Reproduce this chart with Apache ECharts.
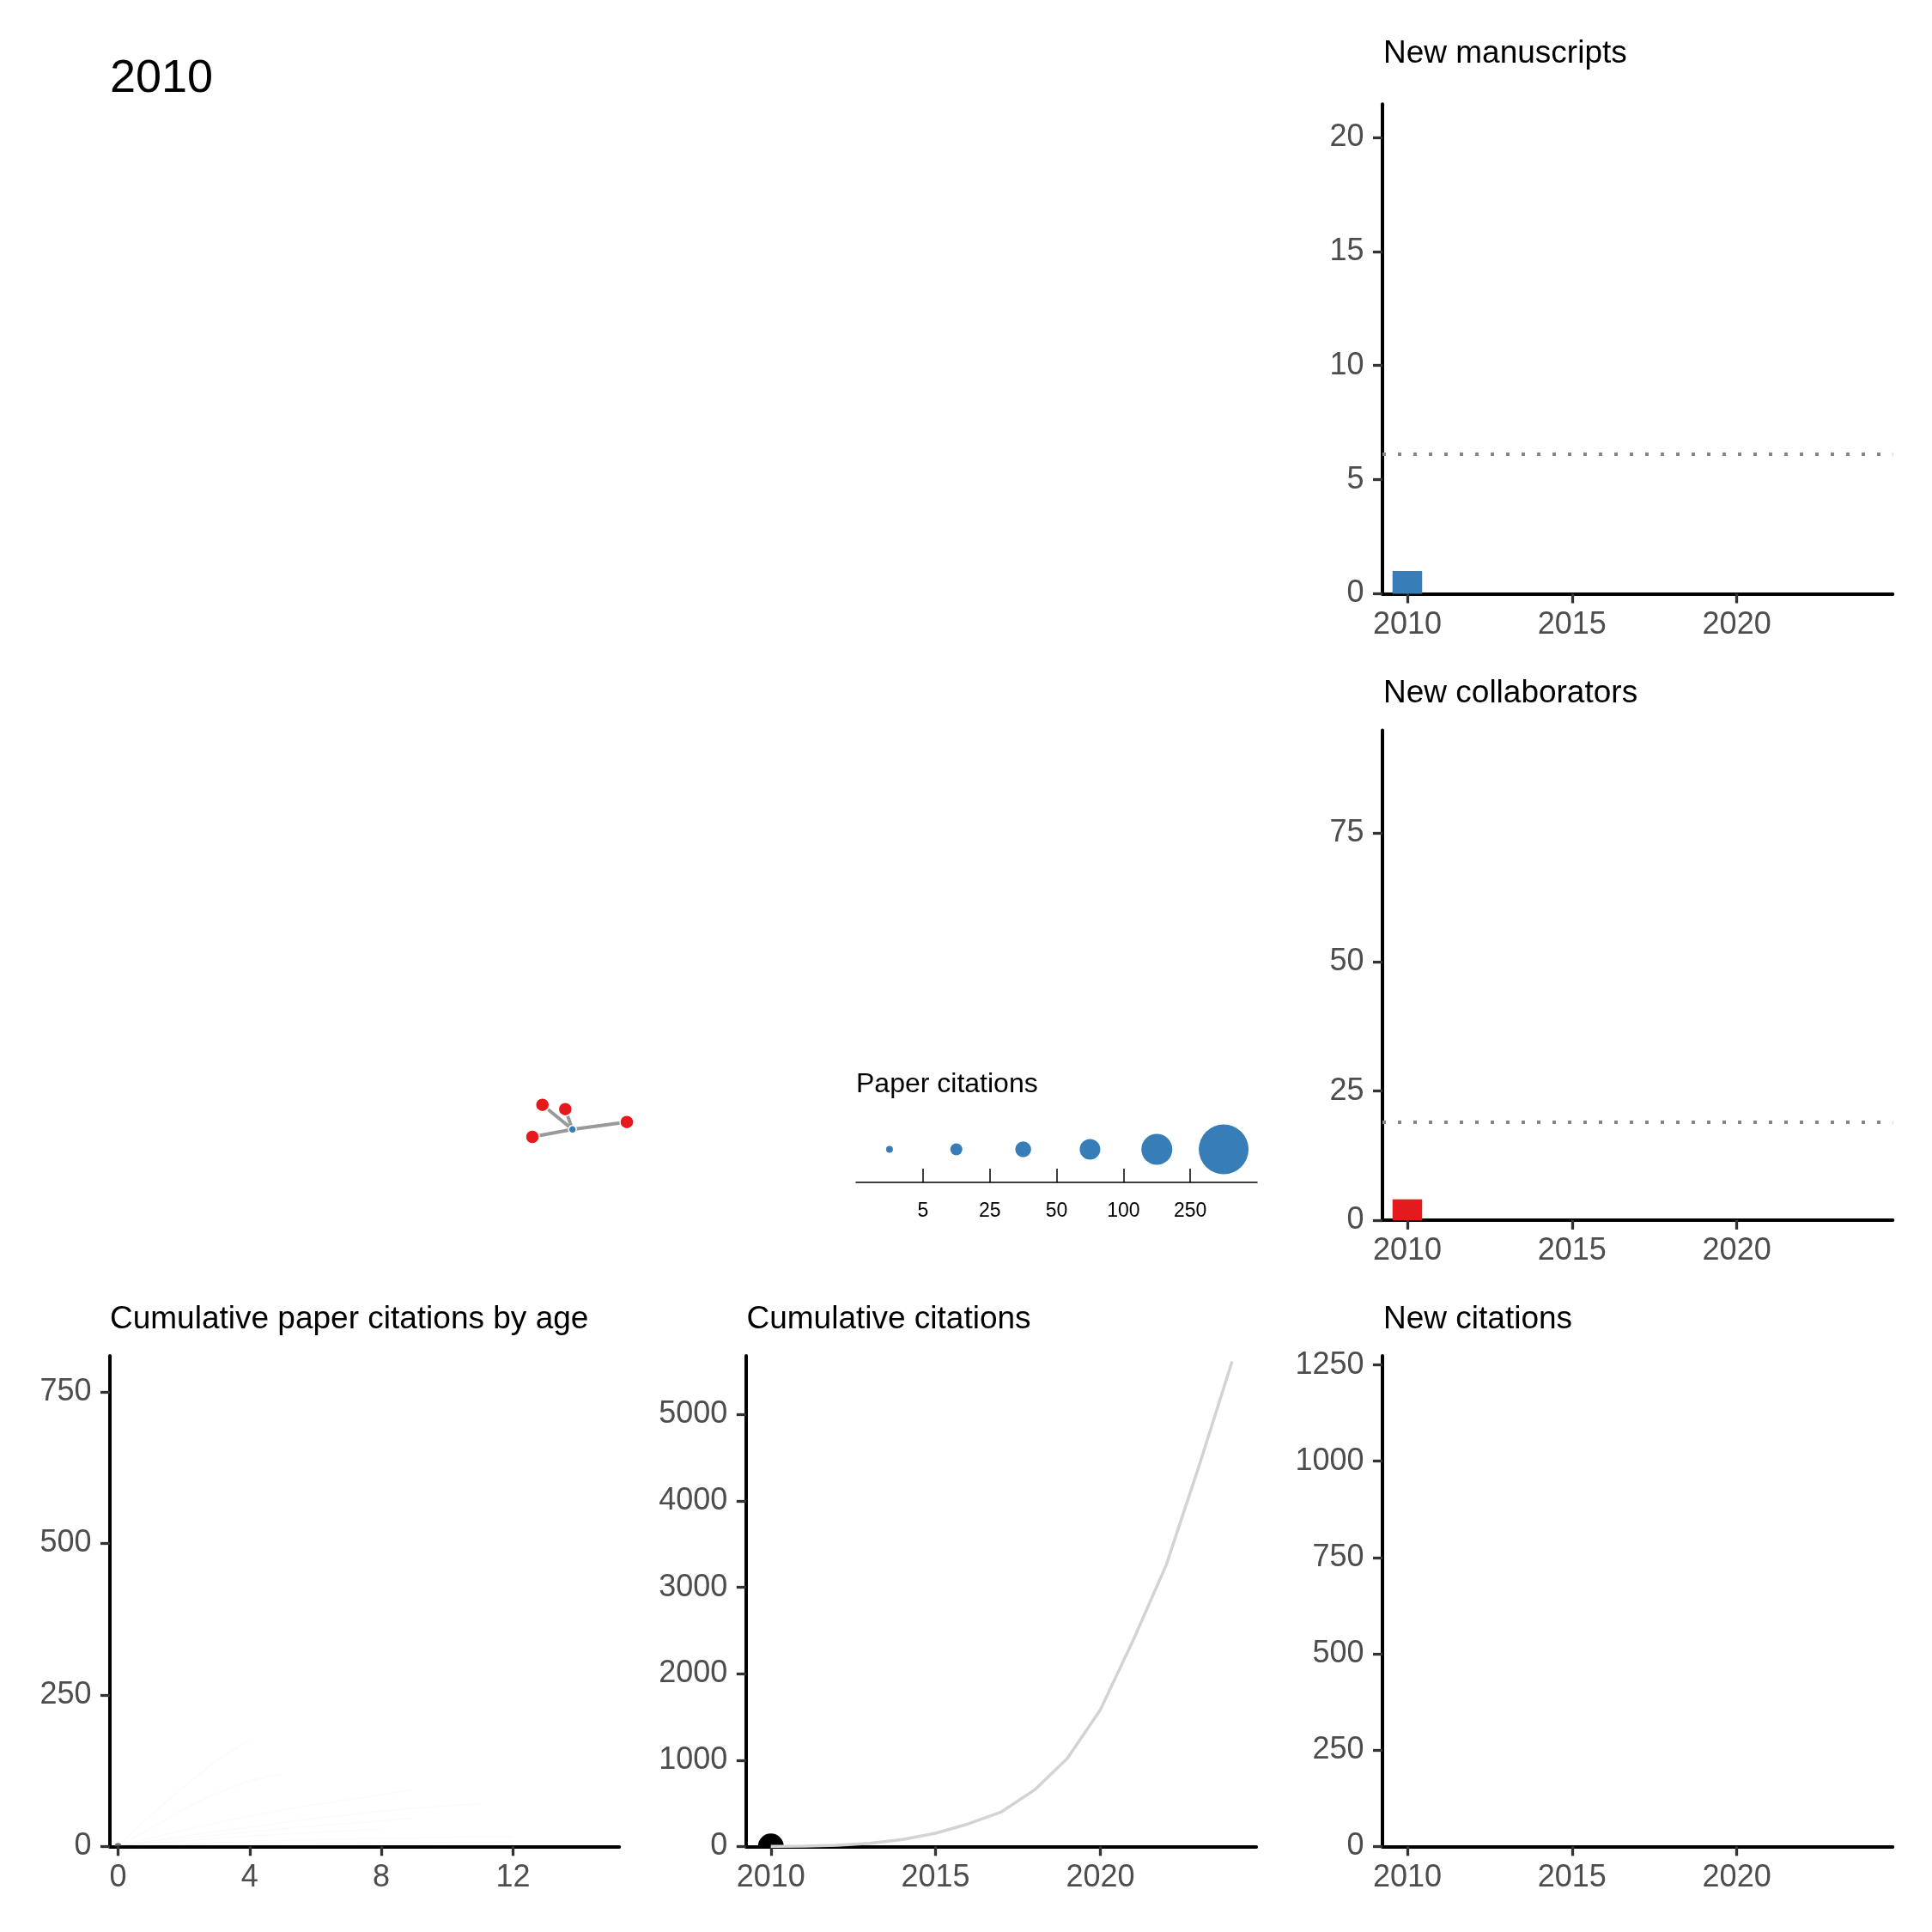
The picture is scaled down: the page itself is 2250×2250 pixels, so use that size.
<!DOCTYPE html>
<html>
<head>
<meta charset="utf-8">
<script src="https://cdn.jsdelivr.net/npm/echarts@6/dist/echarts.min.js"></script>
<style>
  html, body { margin: 0; padding: 0; background: #fff; }
  #container { width: 2250px; height: 2250px; }
</style>
</head>
<body>
<div id="container"></div>
<script>
// ---- data ----
const currentYear = 2010;
const years = [2010, 2011, 2012, 2013, 2014, 2015, 2016, 2017, 2018, 2019, 2020, 2021, 2022, 2023, 2024];
const yearTicks = [2010, 2015, 2020];

// shown so far (only the current year)
const newManuscripts = [1];
const newCollaborators = [4];
const newCitations = [0];
const avgManuscripts = 6.11;
const avgCollaborators = 18.98;

// total cumulative citations over the whole career (grey background curve)
const cumCitations = [0, 3, 12, 35, 80, 152, 262, 400, 653, 1020, 1582, 2390, 3259, 4410, 5618];
const cumCitationsNow = 0;

// faint per-paper trajectories: cumulative citations by paper age 0, 1, 2, ...
const paperCumByAge = [
  [0, 52, 98, 142, 176],
  [0, 30, 61, 88, 108, 120],
  [0, 14, 27, 39, 50, 60, 69, 77, 85, 94],
  [0, 9, 17, 25, 32, 39, 46, 52, 58, 63, 67, 70],
  [0, 7, 13, 19, 24, 29, 34, 38, 42, 47],
  [0, 5, 9, 13, 17, 20, 23, 26, 28],
  [0, 2, 4, 6, 8, 10, 11, 12, 13, 14, 15, 16, 16],
  [0, 1, 2, 3, 3, 4, 5, 5, 6, 6, 7, 7, 8]
];
const ageTicks = [0, 4, 8, 12];

// co-authorship network (layout coordinates)
const netNodes = [
  { name: 'paper1', kind: 'paper', x: 5.387, y: 1.077 },
  { name: 'coauthor1', kind: 'person', x: 5.037, y: 1.363 },
  { name: 'coauthor2', kind: 'person', x: 5.303, y: 1.313 },
  { name: 'coauthor3', kind: 'person', x: 4.920, y: 0.990 },
  { name: 'coauthor4', kind: 'person', x: 6.020, y: 1.163 }
];
const netLinks = [
  ['paper1', 'coauthor1'],
  ['paper1', 'coauthor2'],
  ['paper1', 'coauthor3'],
  ['paper1', 'coauthor4']
];

// size legend
const citationBreaks = ['5', '25', '50', '100', '250'];

// ---- styles ----
const FONT = 'Liberation Sans';
const BLUE = '#377EB8';
const RED = '#E41A1C';
const binDiameters = [8, 14, 18.5, 24, 36, 58];
const HALF_DISC = 'path://M0 10A10 10 0 0 1 20 10Z';

function title(text, left, top, size) {
  return {
    text: text, left: left, top: top, padding: 0,
    textStyle: { fontFamily: FONT, fontSize: size || 37, fontWeight: 'normal', color: '#000' }
  };
}

function plain(v) { return String(v); }

function xAxisFor(gi, min, max, ticks) {
  return {
    type: 'value', gridIndex: gi, min: min, max: max,
    axisLine: { show: true, onZero: false, lineStyle: { color: '#000', width: 4 } },
    axisTick: { show: true, customValues: ticks, length: 11, lineStyle: { color: '#333', width: 3.3 } },
    axisLabel: { show: true, customValues: ticks, formatter: plain, color: '#4d4d4d', fontSize: 36, fontFamily: FONT, margin: 18.5 },
    splitLine: { show: false }
  };
}

function yAxisFor(gi, max, ticks) {
  return {
    type: 'value', gridIndex: gi, min: 0, max: max,
    axisLine: { show: true, onZero: false, lineStyle: { color: '#000', width: 4 } },
    axisTick: { show: true, customValues: ticks, length: 11, lineStyle: { color: '#333', width: 3.3 } },
    axisLabel: { show: true, customValues: ticks, formatter: plain, color: '#4d4d4d', fontSize: 36, fontFamily: FONT, margin: 21.5 },
    splitLine: { show: false }
  };
}

function hiddenAxis(gi, min, max) {
  return { type: 'value', gridIndex: gi, min: min, max: max, show: false, splitLine: { show: false } };
}

function avgLine(v) {
  return {
    silent: true, symbol: ['none', 'none'], label: { show: false },
    lineStyle: { color: '#858585', width: 4, type: [4, 14] },
    data: [{ yAxis: v }]
  };
}

const YMIN = 2009.245, YMAX = 2024.735;

const option = {
  animation: false,
  backgroundColor: '#fff',
  title: [
    title(String(currentYear), 128, 65.5, 54),
    title('New manuscripts', 1611, 44),
    title('New collaborators', 1611, 789.5),
    title('Cumulative paper citations by age', 128, 1518.5),
    title('Cumulative citations', 869.5, 1518.5),
    title('New citations', 1611, 1518.5),
    title('Paper citations', 997, 1247, 32)
  ],
  grid: [
    { left: 128, top: 122, width: 872, height: 1301 },          // 0 network
    { left: 997, top: 1300, width: 467, height: 77 },           // 1 size legend
    { left: 1610, top: 121.2, width: 594.3, height: 570.3 },    // 2 new manuscripts
    { left: 1610, top: 850.6, width: 594.3, height: 570.3 },    // 3 new collaborators
    { left: 128, top: 1579.1, width: 593.2, height: 571.2 },    // 4 paper ages
    { left: 868.8, top: 1579.1, width: 594.3, height: 571.2 },  // 5 cumulative citations
    { left: 1610, top: 1579.1, width: 594.3, height: 571.2 }    // 6 new citations
  ],
  xAxis: [
    hiddenAxis(0, 0, 8.72),
    {
      type: 'value', gridIndex: 1, min: 0.5, max: 6.5,
      axisLine: { show: true, lineStyle: { color: '#000', width: 1.5 } },
      axisTick: { show: true, inside: true, length: 16, customValues: [1.5, 2.5, 3.5, 4.5, 5.5], lineStyle: { color: '#000', width: 1.5 } },
      axisLabel: {
        show: true, customValues: [1.5, 2.5, 3.5, 4.5, 5.5], color: '#000', fontSize: 23, fontFamily: FONT, margin: 22.5,
        formatter: function (v) { return citationBreaks[Math.round(v - 1.5)]; }
      },
      splitLine: { show: false }
    },
    xAxisFor(2, YMIN, YMAX, yearTicks),
    xAxisFor(3, YMIN, YMAX, yearTicks),
    xAxisFor(4, -0.248, 15.23, ageTicks),
    xAxisFor(5, YMIN, YMAX, yearTicks),
    xAxisFor(6, YMIN, YMAX, yearTicks)
  ],
  yAxis: [
    hiddenAxis(0, 0, 13.01),
    hiddenAxis(1, 0, 1),
    yAxisFor(2, 21.46, [0, 5, 10, 15, 20]),
    yAxisFor(3, 94.94, [0, 25, 50, 75]),
    yAxisFor(4, 809, [0, 250, 500, 750]),
    yAxisFor(5, 5681, [0, 1000, 2000, 3000, 4000, 5000]),
    yAxisFor(6, 1273.4, [0, 250, 500, 750, 1000, 1250])
  ],
  series: []
};

// network
option.series.push({
  type: 'graph', coordinateSystem: 'cartesian2d', xAxisIndex: 0, yAxisIndex: 0,
  data: netNodes.map(function (n) {
    const person = n.kind === 'person';
    return {
      name: n.name, value: [n.x, n.y],
      symbolSize: person ? 16 : 9,
      itemStyle: { color: person ? RED : BLUE, borderColor: '#fff', borderWidth: 1.5, opacity: 1 }
    };
  }),
  links: netLinks.map(function (l) { return { source: l[0], target: l[1] }; }),
  lineStyle: { color: '#999', width: 4, opacity: 1, curveness: 0 },
  label: { show: false },
  silent: true
});

// size legend circles
option.series.push({
  type: 'scatter', xAxisIndex: 1, yAxisIndex: 1, silent: true,
  data: binDiameters.map(function (d, i) { return { value: [i + 1, 0.5], symbolSize: d }; }),
  itemStyle: { color: BLUE, opacity: 1 }
});

// new manuscripts
option.series.push({
  type: 'bar', xAxisIndex: 2, yAxisIndex: 2, barWidth: 34.5,
  data: newManuscripts.map(function (v, i) { return [years[i], v]; }),
  itemStyle: { color: BLUE },
  markLine: avgLine(avgManuscripts)
});

// new collaborators
option.series.push({
  type: 'bar', xAxisIndex: 3, yAxisIndex: 3, barWidth: 34.5,
  data: newCollaborators.map(function (v, i) { return [years[i], v]; }),
  itemStyle: { color: RED },
  markLine: avgLine(avgCollaborators)
});

// cumulative paper citations by age (faint trajectories)
paperCumByAge.forEach(function (arr) {
  option.series.push({
    type: 'line', xAxisIndex: 4, yAxisIndex: 4, symbol: 'none', silent: true,
    data: arr.map(function (v, age) { return [age, v]; }),
    lineStyle: { color: '#000', width: 2, opacity: 0.014 }
  });
});
option.series.push({
  type: 'scatter', xAxisIndex: 4, yAxisIndex: 4, silent: true,
  symbol: HALF_DISC, symbolSize: [8, 4], symbolOffset: [0, -2],
  data: [[0, 0]], itemStyle: { color: '#555', opacity: 0.8 }
});

// cumulative citations
option.series.push({
  type: 'line', xAxisIndex: 5, yAxisIndex: 5, symbol: 'none', silent: true,
  data: cumCitations.map(function (v, i) { return [years[i], v]; }),
  lineStyle: { color: '#D3D3D3', width: 3.5 }
});
// current-year marker, lower half hidden below the panel edge as in the original
option.series.push({
  type: 'scatter', xAxisIndex: 5, yAxisIndex: 5, silent: true,
  symbol: HALF_DISC, symbolSize: [30, 15], symbolOffset: [0, -7.5],
  data: [[currentYear, cumCitationsNow]], itemStyle: { color: '#000', opacity: 1 }
});

// new citations
option.series.push({
  type: 'bar', xAxisIndex: 6, yAxisIndex: 6, barWidth: 34.5,
  data: newCitations.map(function (v, i) { return [years[i], v]; }),
  itemStyle: { color: BLUE }
});

const chart = echarts.init(document.getElementById('container'), null, { renderer: 'canvas' });
chart.setOption(option);
</script>
</body>
</html>
